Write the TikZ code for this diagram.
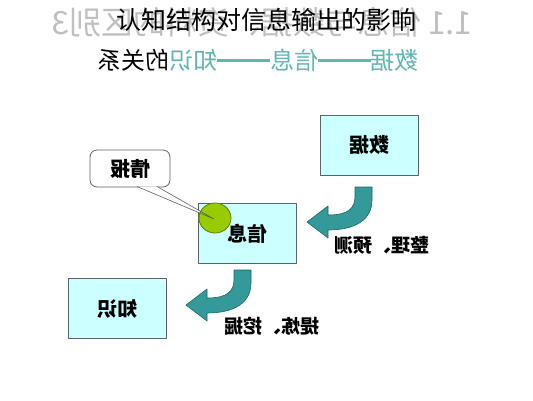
\documentclass[tikz,border=0pt]{standalone}
\usepackage{fontspec}
\newfontfamily\cjk{Noto Sans CJK SC}
\definecolor{boxfill}{HTML}{CCFFFF}
\definecolor{boxline}{HTML}{5A6464}
\definecolor{dotgreen}{HTML}{99CC00}
\definecolor{dotline}{HTML}{5C7A00}
\definecolor{arrowteal}{HTML}{339999}
\definecolor{arrowline}{HTML}{1F6666}
\definecolor{titleteal}{HTML}{5FB5B5}
\newcommand{\longdash}{\rule[0.32em]{2.2em}{0.09em}}
\tikzset{
  mirror/.style={xscale=-1},
  infobox/.style={mirror, draw=boxline, fill=boxfill, line width=0.8pt,
    minimum width=98pt, minimum height=60pt, inner sep=0pt,
    font=\cjk\fontsize{20}{24}\selectfont\bfseries},
  callout/.style={mirror, draw=boxline, fill=white, line width=0.8pt,
    rounded corners=7pt, minimum width=80pt, minimum height=37pt,
    inner sep=0pt, font=\cjk\fontsize{20}{24}\selectfont\bfseries},
  dot/.style={ellipse, draw=dotline, fill=dotgreen, line width=0.8pt,
    minimum width=32pt, minimum height=30pt, inner sep=0pt},
  steplabel/.style={mirror, font=\cjk\fontsize{19}{23}\selectfont\bfseries}
}
\usetikzlibrary{shapes.geometric}
\begin{document}
\begin{tikzpicture}[x=1pt, y=-1pt, font=\cjk, line join=round]
  \useasboundingbox (0,0) rectangle (533,400);

  % title, grey mirrored one underneath
  \node [mirror, text=gray!50, font=\cjk\fontsize{32}{36}\selectfont] (oldtitle)
    at (262,22) {1.1 信息与数据、资料的区别3};
  \node [font=\cjk\fontsize{25}{30}\selectfont] (title) at (266,20) {认知结构对信息输出的影响};

  % subtitle
  \node [mirror, font=\cjk\fontsize{24}{28}\selectfont] (subtitle) at (258,60)
    {\textcolor{titleteal}{数据\longdash 信息\longdash 知识}的关系};

  % boxes
  \node [infobox] (data) at (369,145) {数据};
  \node [infobox] (info) at (247.5,233.5) {信息};
  \node [infobox] (know) at (117,308.5) {知识};

  % callout with tail
  \node [callout] (intel) at (130,168.5) {情报};
  \coordinate (tailA) at (137,186.5);
  \coordinate (tailB) at (157,186.5);
  \coordinate (tip) at (214,219);
  \fill [white] (tailA) -- (tailB) -- (tip) -- cycle;
  \node [dot] (spot) at (215,218) {};
  \draw [boxline, line width=0.6pt] (tailA) -- (tip) -- (tailB);

  % bent arrows
  \foreach \tx/\ty in {307/222, 186/305}
    \path [fill=arrowteal, draw=arrowline, line width=0.6pt, shift={(\tx,\ty)}]
    (0,0) -- (21,-16) -- (21,-7) ..
    controls (42,-7) and (48,-14) .. (48,-26) --
    (48,-35) -- (65,-35) -- (65,-22) ..
    controls (65,-2) and (48,8) .. (21,8) --
    (21,16) -- cycle;

  % arrow labels
  \node [steplabel] (tidy) at (382,245) {整理、预测};
  \node [steplabel] (mine) at (272,326) {提炼、挖掘};
\end{tikzpicture}
\end{document}
